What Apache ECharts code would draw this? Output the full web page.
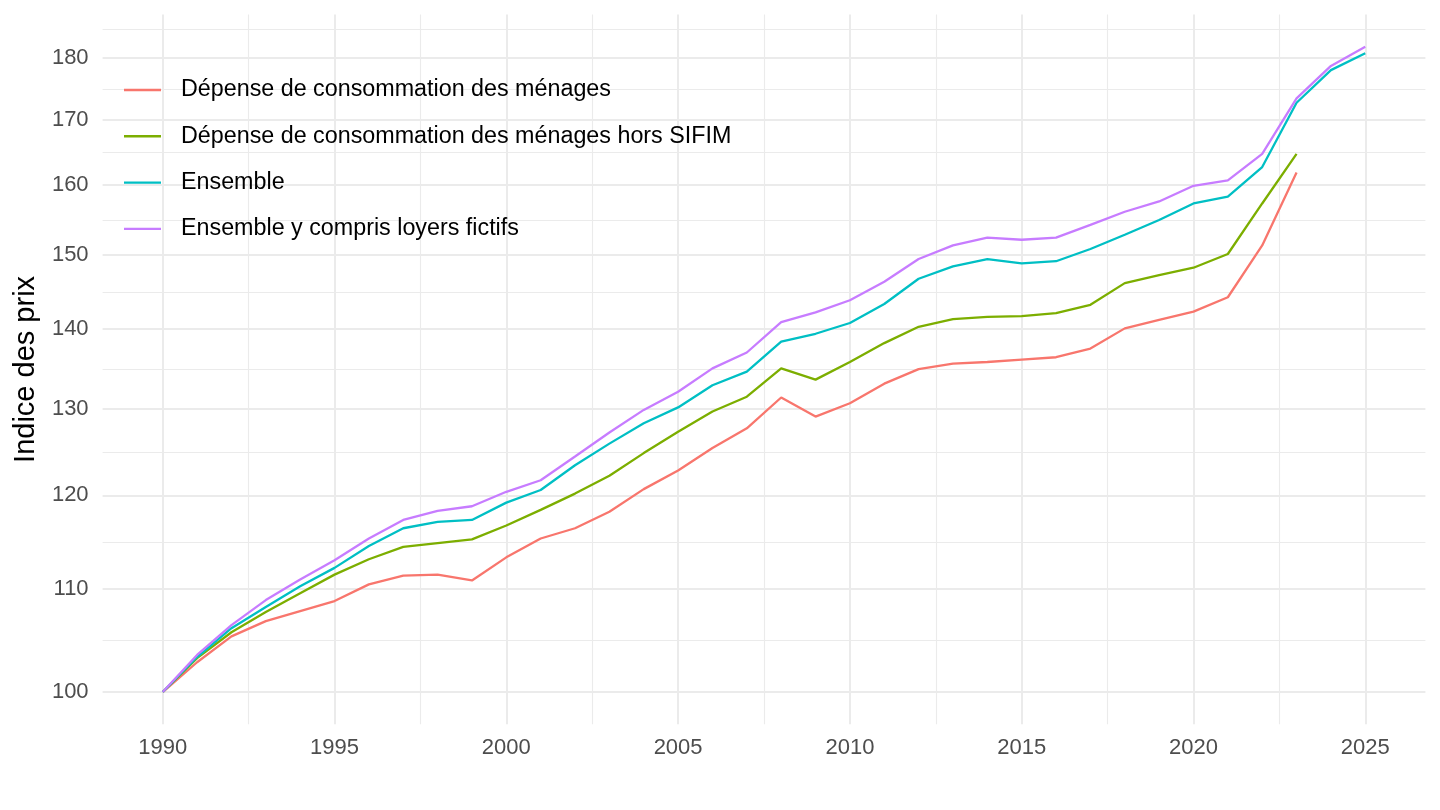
<!DOCTYPE html>
<html><head><meta charset="utf-8">
<script src="https://cdn.jsdelivr.net/npm/echarts@6/dist/echarts.min.js"></script>
<style>html,body{margin:0;padding:0;background:#fff}#c{width:1440px;height:810px}</style>
</head><body><div id="c"></div>
<script>
const years = [1990,1991,1992,1993,1994,1995,1996,1997,1998,1999,2000,2001,2002,2003,2004,2005,2006,2007,2008,2009,2010,2011,2012,2013,2014,2015,2016,2017,2018,2019,2020,2021,2022,2023,2024,2025];
const depenseMenages = [100,102.8,105.3,106.8,107.8,108.8,110.5,111.4,111.5,110.9,113.3,115.3,116.4,118.2,120.7,122.8,125.4,127.7,131.4,129.1,130.7,133.1,134.9,135.6,135.8,136.1,136.4,137.5,140.1,141.2,142.3,144.2,151.3,161.9];
const depenseHorsSifim = [100,103.2,105.7,107.7,109.6,111.5,113.1,114.4,114.8,115.2,116.7,118.4,120.2,122.2,124.8,127.3,129.7,131.5,135.0,133.6,135.8,138.2,140.3,141.3,141.6,141.7,142.1,143.2,146.1,147.2,148.2,150.1,157.3,164.7];
const ensemble = [100,103.3,106.1,108.2,110.3,112.2,114.5,116.4,117.1,117.3,119.2,120.6,123.4,125.9,128.3,130.2,132.9,134.6,138.4,139.4,140.8,143.3,146.7,148.4,149.4,148.8,149.1,150.8,152.8,154.9,157.3,158.3,162.7,172.7,178.0,180.8];
const ensembleLoyers = [100,103.5,106.4,108.9,111.0,113.0,115.3,117.3,118.3,118.8,120.4,121.7,124.4,127.2,129.9,132.1,135.0,137.0,140.9,142.2,143.8,146.3,149.4,151.3,152.4,152.1,152.4,154.2,156.1,157.6,159.9,160.7,164.7,173.4,178.7,181.9];
const seriesNames = ['Dépense de consommation des ménages','Dépense de consommation des ménages hors SIFIM','Ensemble','Ensemble y compris loyers fictifs'];
const seriesColors = ['#F8766D','#7CAE00','#00BFC4','#C77CFF'];
const yTickLabels = [100,110,120,130,140,150,160,170,180];
const xTickLabels = [1990,1995,2000,2005,2010,2015,2020,2025];

const allSeries = [depenseMenages, depenseHorsSifim, ensemble, ensembleLoyers];
const FONT = 'Liberation Sans, Arial, sans-serif';

// x scale (ggplot 5% expansion)
const xr = years[years.length-1] - years[0];
const xMin = years[0] - 0.05*xr, xMax = years[years.length-1] + 0.05*xr;
const xMinor = [];
for (let i = 0; i < xTickLabels.length - 1; i++) xMinor.push((xTickLabels[i]+xTickLabels[i+1])/2);

// y scale in log10 space
const allVals = [].concat(...allSeries);
const lmin = Math.log10(Math.min(...allVals)), lmax = Math.log10(Math.max(...allVals));
const yMin = lmin - 0.05*(lmax-lmin), yMax = lmax + 0.05*(lmax-lmin);
const yMajor = yTickLabels.map(v => Math.log10(v));
const yMinor = [];
for (let i = 0; i < yMajor.length - 1; i++) yMinor.push((yMajor[i]+yMajor[i+1])/2);
yMinor.push((Math.log10(180)+Math.log10(190))/2);

const gridColor = '#ebebeb';
const chart = echarts.init(document.getElementById('c'), null, {renderer:'canvas'});
chart.setOption({
  animation: false,
  backgroundColor: '#ffffff',
  grid: {left: 102.6, right: 14.6, top: 14.5, bottom: 85.7, containLabel: false},
  legend: {
    orient: 'vertical', left: 124, top: 78, padding: 0,
    icon: 'rect', itemWidth: 37, itemHeight: 2.4, itemGap: 22.3,
    textStyle: {fontFamily: FONT, fontSize: 23.3, color: '#000', lineHeight: 24, padding: [0,0,0,15]},
    data: seriesNames
  },
  xAxis: [
    {type:'value', min:xMin, max:xMax,
     axisLine:{show:false}, axisTick:{show:false, customValues: xTickLabels},
     axisLabel:{customValues: xTickLabels, formatter: v => String(Math.round(v)), fontFamily: FONT, fontSize: 22, color:'#4d4d4d', margin: 13},
     splitLine:{show:true, lineStyle:{color:gridColor, width:2}}},
    {type:'value', min:xMin, max:xMax, position:'bottom',
     axisLine:{show:false}, axisTick:{show:false, customValues: xMinor}, axisLabel:{show:false},
     splitLine:{show:true, lineStyle:{color:gridColor, width:1.1}}}
  ],
  yAxis: [
    {type:'value', min:yMin, max:yMax,
     name: 'Indice des prix', nameLocation:'middle', nameRotate: 90, nameGap: 57,
     nameTextStyle:{fontFamily: FONT, fontSize: 29, color:'#000'},
     axisLine:{show:false}, axisTick:{show:false, customValues: yMajor},
     axisLabel:{customValues: yMajor, formatter: v => String(Math.round(Math.pow(10, v))), fontFamily: FONT, fontSize: 22, color:'#4d4d4d', margin: 14},
     splitLine:{show:true, lineStyle:{color:gridColor, width:2}}},
    {type:'value', min:yMin, max:yMax, position:'left',
     axisLine:{show:false}, axisTick:{show:false, customValues: yMinor}, axisLabel:{show:false},
     splitLine:{show:true, lineStyle:{color:gridColor, width:1.1}}}
  ],
  series: allSeries.map((vals, k) => ({
    name: seriesNames[k], type:'line', xAxisIndex:0, yAxisIndex:0,
    symbol:'none', smooth:false, color: seriesColors[k],
    lineStyle:{width:2.3, color: seriesColors[k]},
    data: vals.map((v, i) => [years[i], Math.log10(v)])
  }))
});
</script></body></html>
